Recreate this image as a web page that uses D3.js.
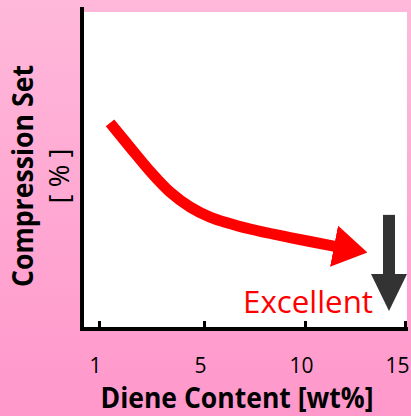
<!DOCTYPE html>
<html>
<head>
<meta charset="utf-8">
<script src="https://cdn.jsdelivr.net/npm/d3@7"></script>
<style>
  html, body { margin: 0; padding: 0; }
  body { width: 411px; height: 416px; overflow: hidden; }
  text { font-family: "Open Sans", "DejaVu Sans", sans-serif; }
</style>
</head>
<body>
<svg id="chart" width="411" height="416"></svg>
<script>
// ---- data (schematic trend) ----
const tickValues = [1, 5, 10, 15];
const tickLabels = ["1", "5", "10", "15"];
// red trend curve: diene content [wt%] vs compression set (arbitrary 0-100 units)
const trendX = [1.42, 2.18, 2.94, 3.70, 4.47, 5.30, 7.28, 9.26, 11.5];
const trendY = [64.8, 57.1, 49.5, 42.9, 38.1, 34.9, 31.1, 28.4, 25.6];
// dark "better" arrow: x position, start and head-base values
const downArrowX = [14.2, 14.2];
const downArrowY = [35.6, 16.5];
const xTitle = "Diene Content [wt%]";
const yTitle = ["Compression Set", "[ % ]"];
const noteText = "Excellent";

const svg = d3.select("#chart");
const W = 411, H = 416;

// background gradient
const defs = svg.append("defs");
const grad = defs.append("linearGradient").attr("id", "bg")
  .attr("x1", 0).attr("y1", 0).attr("x2", 0).attr("y2", 1);
grad.append("stop").attr("offset", "0%").attr("stop-color", "#ffb8da");
grad.append("stop").attr("offset", "100%").attr("stop-color", "#ff98cb");
svg.append("rect").attr("width", W).attr("height", H).attr("fill", "url(#bg)");

// scales (schematic, non-uniform tick spacing)
const x = d3.scaleLinear().domain(tickValues).range([99, 204, 305, 405]);
const y = d3.scaleLinear().domain([0, 100]).range([327, 12]);

// plot area
svg.append("rect").attr("x", 83).attr("y", 12).attr("width", 324).attr("height", 315).attr("fill", "#ffffff");

// markers
defs.append("marker").attr("id", "redHead")
  .attr("markerUnits", "userSpaceOnUse")
  .attr("viewBox", "0 -21 34 42").attr("refX", 1).attr("refY", 0)
  .attr("markerWidth", 34).attr("markerHeight", 42).attr("orient", "auto")
  .append("path").attr("d", "M0,-21L34,0L0,21Z").attr("fill", "#ff0000");
defs.append("marker").attr("id", "grayHead")
  .attr("markerUnits", "userSpaceOnUse")
  .attr("viewBox", "0 -18 37 36").attr("refX", 1).attr("refY", 0)
  .attr("markerWidth", 37).attr("markerHeight", 36).attr("orient", "auto")
  .append("path").attr("d", "M0,-18L37,0L0,18Z").attr("fill", "#333333");

// red trend curve
const line = d3.line().x(d => x(d[0])).y(d => y(d[1])).curve(d3.curveCatmullRom.alpha(0.5));
svg.append("path")
  .datum(d3.zip(trendX, trendY))
  .attr("d", line)
  .attr("fill", "none")
  .attr("stroke", "#ff0000")
  .attr("stroke-width", 11)
  .attr("marker-end", "url(#redHead)");

// gray down arrow
svg.append("path")
  .datum(d3.zip(downArrowX, downArrowY))
  .attr("d", d3.line().x(d => x(d[0])).y(d => y(d[1])))
  .attr("fill", "none")
  .attr("stroke", "#333333")
  .attr("stroke-width", 12)
  .attr("marker-end", "url(#grayHead)");

// "Excellent"
svg.append("text")
  .attr("x", 243).attr("y", 313)
  .attr("textLength", 130).attr("lengthAdjust", "spacingAndGlyphs")
  .attr("fill", "#ff0000").attr("font-size", 31)
  .text(noteText);

// axes lines
svg.append("line").attr("x1", 82).attr("x2", 82).attr("y1", 7).attr("y2", 331)
  .attr("stroke", "#000").attr("stroke-width", 4);
svg.append("line").attr("x1", 80).attr("x2", 408).attr("y1", 329).attr("y2", 329)
  .attr("stroke", "#000").attr("stroke-width", 4);

// ticks via d3 axis (inward)
const xAxis = d3.axisBottom(x).tickValues(tickValues).tickFormat((d, i) => tickLabels[i])
  .tickSize(-6).tickSizeOuter(0).tickPadding(31);
const gx = svg.append("g").attr("transform", "translate(0,327)").call(xAxis);
gx.select(".domain").remove();
gx.selectAll(".tick line").attr("stroke", "#000").attr("stroke-width", 3);
gx.selectAll(".tick text")
  .attr("font-family", "Open Sans, sans-serif")
  .attr("font-size", 21).attr("fill", "#000")
  .attr("dx", (d, i) => i === tickValues.length - 1 ? -8 : -4);

// x title
svg.append("text")
  .attr("x", 237).attr("y", 408)
  .attr("text-anchor", "middle")
  .attr("textLength", 273).attr("lengthAdjust", "spacingAndGlyphs")
  .attr("font-size", 28).attr("font-weight", "bold").attr("fill", "#000")
  .text(xTitle);

// y title
svg.append("text")
  .attr("transform", "translate(33,176) rotate(-90)")
  .attr("text-anchor", "middle")
  .attr("textLength", 222).attr("lengthAdjust", "spacingAndGlyphs")
  .attr("font-size", 29).attr("font-weight", "bold").attr("fill", "#000")
  .text(yTitle[0]);
svg.append("text")
  .attr("transform", "translate(69,176) rotate(-90)")
  .attr("text-anchor", "middle")
  .attr("textLength", 55).attr("lengthAdjust", "spacingAndGlyphs")
  .attr("font-size", 27).attr("fill", "#000")
  .text(yTitle[1]);
</script>
</body>
</html>
